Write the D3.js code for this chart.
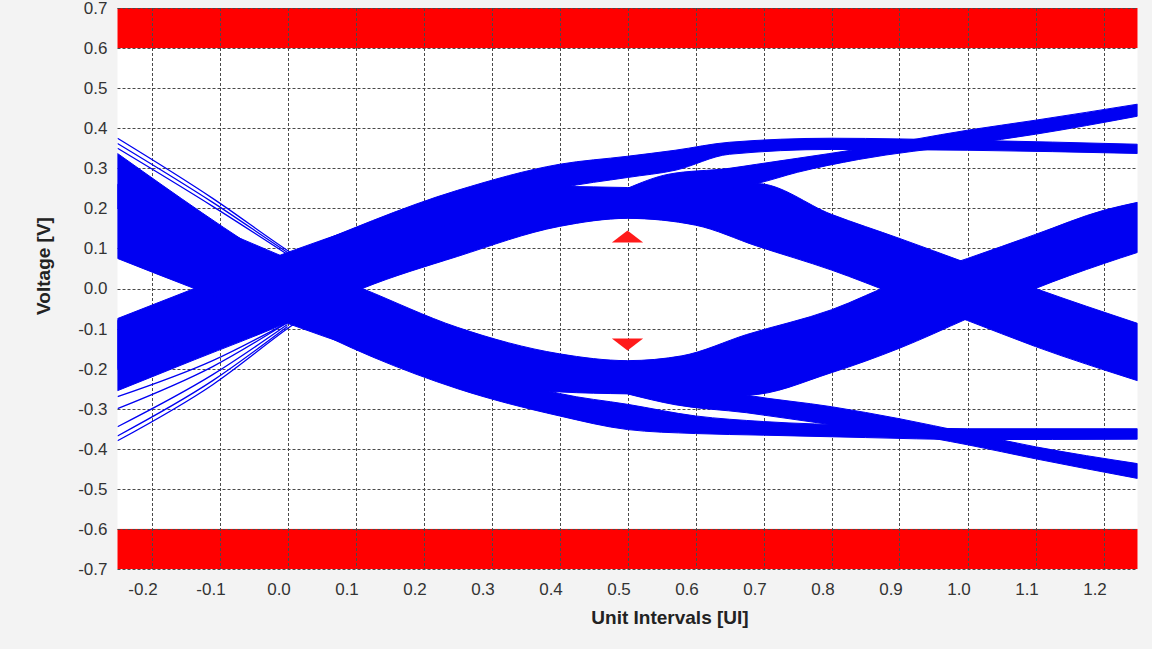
<!DOCTYPE html>
<html lang="en">
<head>
<meta charset="UTF-8">
<title>Eye Diagram</title>
<script src="https://d3js.org/d3.v7.min.js"></script>
<style>
  body { margin: 0; background: #f3f3f3; }
  svg { display: block; }
  .axis text { font-family: Arial, "Liberation Sans", sans-serif; font-size: 17px; fill: #333; }
  .title { font-family: Arial, "Liberation Sans", sans-serif; font-size: 19px; font-weight: bold; fill: #222; }
</style>
</head>
<body>
<div id="chart"></div>
<script>
// axis ticks
const xTicks = [-0.2, -0.1, 0.0, 0.1, 0.2, 0.3, 0.4, 0.5, 0.6, 0.7, 0.8, 0.9, 1.0, 1.1, 1.2];
const yTicks = [-0.7, -0.6, -0.5, -0.4, -0.3, -0.2, -0.1, 0.0, 0.1, 0.2, 0.3, 0.4, 0.5, 0.6, 0.7];

// mask limit bands [from, to] in volts
const maskBands = [[0.6, 0.7], [-0.7, -0.6]];
// eye mask markers [ui, base, tip]
const maskMarkers = [[0.5, 0.115, 0.145], [0.5, -0.125, -0.155]];

// trace bundles: [ui, upper edge, lower edge]
const riseFall = [
    [-0.25, -0.075, -0.255], [-0.137, 0.0, -0.178], [0.0, 0.09, -0.085], [0.11, 0.155, 0.0],
    [0.25, 0.232, 0.08], [0.4, 0.255, 0.155], [0.5, 0.252, 0.175], [0.6, 0.258, 0.158],
    [0.69, 0.262, 0.106], [0.8, 0.185, 0.046], [0.9, 0.125, -0.018], [1.0, 0.063, -0.08],
    [1.1, 0.0, -0.145], [1.25, -0.087, -0.23]
];
const riseHigh = [
    [-0.25, -0.08, -0.2], [0.0, 0.085, -0.03], [0.25, 0.245, 0.17], [0.4, 0.31, 0.25],
    [0.5, 0.33, 0.277], [0.57, 0.345, 0.295], [0.65, 0.365, 0.335], [0.8, 0.375, 0.347],
    [1.0, 0.37, 0.345], [1.25, 0.36, 0.337]
];
const riseUp = [
    [0.5, 0.25, 0.2], [0.56, 0.285, 0.222], [0.65, 0.3, 0.25], [0.69, 0.31, 0.262],
    [0.75, 0.325, 0.29], [0.84, 0.348, 0.322], [1.0, 0.395, 0.36], [1.1, 0.42, 0.385],
    [1.25, 0.46, 0.43]
];
const fallRise = [
    [-0.25, 0.26, 0.075], [-0.137, 0.175, 0.0], [0.0, 0.075, -0.087], [0.11, 0.0, -0.152],
    [0.25, -0.097, -0.225], [0.4, -0.163, -0.258], [0.5, -0.18, -0.263], [0.58, -0.168, -0.265],
    [0.675, -0.115, -0.266], [0.8, -0.053, -0.21], [0.9, 0.018, -0.149], [1.0, 0.075, -0.075],
    [1.1, 0.135, 0.0], [1.2, 0.195, 0.062], [1.25, 0.215, 0.09]
];
const fallLow = [
    [-0.25, 0.337, 0.2], [0.0, 0.05, -0.07], [0.25, -0.18, -0.25], [0.4, -0.262, -0.318],
    [0.5, -0.289, -0.352], [0.6, -0.318, -0.362], [0.7, -0.332, -0.366], [0.85, -0.342, -0.372],
    [1.0, -0.35, -0.377], [1.25, -0.35, -0.376]
];
const fallDown = [
    [0.5, -0.2, -0.263], [0.57, -0.23, -0.29], [0.675, -0.266, -0.31], [0.8, -0.295, -0.34],
    [0.9, -0.325, -0.36], [1.0, -0.36, -0.39], [1.1, -0.395, -0.425], [1.25, -0.437, -0.474]
];
// loose single traces at the left edge: [ui, volts]
const strayTraces = [
    [[-0.25, 0.375], [-0.11, 0.225], [0.0, 0.095], [0.05, 0.04]],
    [[-0.25, 0.362], [-0.11, 0.215], [0.0, 0.09], [0.05, 0.035]],
    [[-0.25, 0.35], [-0.11, 0.205], [0.0, 0.085]],
    [[-0.25, -0.38], [-0.11, -0.24], [0.0, -0.1], [0.05, -0.04]],
    [[-0.25, -0.368], [-0.11, -0.23], [0.0, -0.095]],
    [[-0.25, -0.345], [-0.11, -0.215], [0.0, -0.09]],
    [[-0.25, -0.3], [-0.11, -0.195], [0.0, -0.085]],
    [[-0.25, -0.27], [-0.11, -0.18], [0.0, -0.085]]
];

const width = 1152;
const height = 649;
const traceColor = "#0000f2";

const x = d3.scaleLinear().domain([-0.25, 1.25]).range([117.5, 1137.5]);
const y = d3.scaleLinear().domain([-0.7, 0.7]).range([569, 8]);

const svg = d3.select("#chart")
    .append("svg")
    .attr("width", width)
    .attr("height", height);

svg.append("defs").append("clipPath").attr("id", "plot-clip")
    .append("rect")
    .attr("x", x(-0.25)).attr("y", y(0.7))
    .attr("width", x(1.25) - x(-0.25)).attr("height", y(-0.7) - y(0.7));

// plot background
svg.append("rect")
    .attr("x", x(-0.25)).attr("y", y(0.7))
    .attr("width", x(1.25) - x(-0.25)).attr("height", y(-0.7) - y(0.7))
    .attr("fill", "#fff");

// red limit bands
svg.append("g")
    .selectAll("rect")
    .data(maskBands)
    .join("rect")
    .attr("x", x(-0.25))
    .attr("width", x(1.25) - x(-0.25))
    .attr("y", d => y(d[1]))
    .attr("height", d => y(d[0]) - y(d[1]))
    .attr("fill", "#ff0000");

// dashed grid
const grid = svg.append("g")
    .attr("stroke", "#4a4a4a")
    .attr("stroke-width", 1)
    .attr("stroke-dasharray", "3,2");
grid.selectAll(".vx")
    .data(xTicks)
    .join("line")
    .attr("x1", d => Math.round(x(d)) + 0.5).attr("x2", d => Math.round(x(d)) + 0.5)
    .attr("y1", y(0.7)).attr("y2", y(-0.7));
grid.selectAll(".hy")
    .data(yTicks)
    .join("line")
    .attr("y1", d => Math.round(y(d)) + 0.5).attr("y2", d => Math.round(y(d)) + 0.5)
    .attr("x1", x(-0.25)).attr("x2", x(1.25));

// trace bundles
const band = d3.area()
    .x(d => x(d[0]))
    .y0(d => y(d[2]))
    .y1(d => y(d[1]))
    .curve(d3.curveMonotoneX);

const traces = svg.append("g").attr("clip-path", "url(#plot-clip)");
traces.selectAll("path.band")
    .data([riseFall, riseHigh, riseUp, fallRise, fallLow, fallDown])
    .join("path")
    .attr("class", "band")
    .attr("d", band)
    .attr("fill", traceColor)
    .attr("stroke", traceColor)
    .attr("stroke-width", 1);

const trace = d3.line()
    .x(d => x(d[0]))
    .y(d => y(d[1]))
    .curve(d3.curveMonotoneX);

traces.selectAll("path.stray")
    .data(strayTraces)
    .join("path")
    .attr("class", "stray")
    .attr("d", trace)
    .attr("fill", "none")
    .attr("stroke", traceColor)
    .attr("stroke-width", 1.3);

// eye mask triangles
const halfWidth = 0.023;
svg.append("g")
    .selectAll("path")
    .data(maskMarkers)
    .join("path")
    .attr("d", d => `M${x(d[0] - halfWidth)},${y(d[1])}L${x(d[0] + halfWidth)},${y(d[1])}L${x(d[0])},${y(d[2])}Z`)
    .attr("fill", "#ff1a1a");

// axes
const fmt = d => d.toFixed(1);

const xAxis = svg.append("g")
    .attr("class", "axis")
    .attr("transform", `translate(0,${y(-0.7)})`)
    .call(d3.axisBottom(x).tickValues(xTicks).tickFormat(fmt).tickSize(0).tickPadding(14));
xAxis.select(".domain").remove();
xAxis.selectAll("text").attr("dx", -9).attr("fill", "#333");

const yAxis = svg.append("g")
    .attr("class", "axis")
    .attr("transform", `translate(${x(-0.25)},0)`)
    .call(d3.axisLeft(y).tickValues(yTicks).tickFormat(fmt).tickSize(0).tickPadding(10));
yAxis.select(".domain").remove();
yAxis.selectAll("text").attr("fill", "#333");

svg.append("text")
    .attr("class", "title")
    .attr("x", 670)
    .attr("y", 624)
    .attr("text-anchor", "middle")
    .text("Unit Intervals [UI]");

svg.append("text")
    .attr("class", "title")
    .attr("transform", "translate(50,266) rotate(-90)")
    .attr("text-anchor", "middle")
    .text("Voltage [V]");
</script>
</body>
</html>
